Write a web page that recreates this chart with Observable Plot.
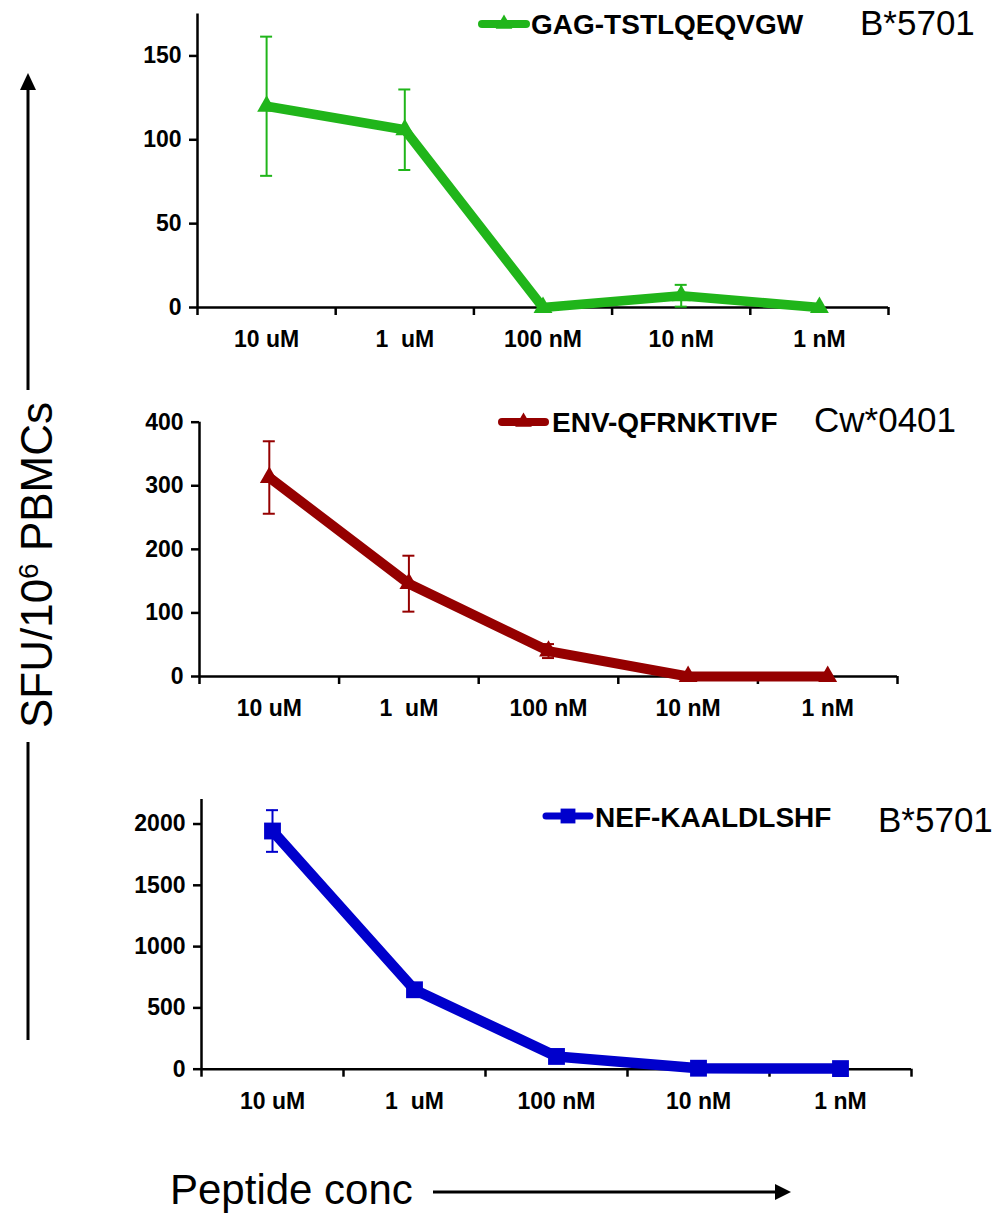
<!DOCTYPE html>
<html><head><meta charset="utf-8">
<script src="https://cdn.jsdelivr.net/npm/d3@7"></script>
<script src="https://cdn.jsdelivr.net/npm/@observablehq/plot@0.6"></script>
<style>
body{margin:0;background:#fff;}
#root{position:relative;width:1000px;height:1214px;font-family:"Liberation Sans",Arial,sans-serif;overflow:hidden;}
#root > svg{position:absolute;left:0;}
svg text{white-space:pre;}
</style></head><body><div id="root"></div>
<script>
// ---- data ----
const concentrations = ["10 uM", "1  uM", "100 nM", "10 nM", "1 nM"];

const gagLabel = "GAG-TSTLQEQVGW";
const gagHLA = "B*5701";
const gagMean = [120, 106, 0, 7, 0];
const gagErr = [41.5, 24, 0, 6.5, 0];
const gagTicks = [0, 50, 100, 150];

const envLabel = "ENV-QFRNKTIVF";
const envHLA = "Cw*0401";
const envMean = [313, 146, 40, 0, 0];
const envErr = [57, 44, 11, 0, 0];
const envTicks = [0, 100, 200, 300, 400];

const nefLabel = "NEF-KAALDLSHF";
const nefHLA = "B*5701";
const nefMean = [1943, 648, 104, 8, 5];
const nefErr = [170, 0, 0, 0, 0];
const nefTicks = [0, 500, 1000, 1500, 2000];

const yAxisTitle = ["SFU/10", "6", " PBMCs"];
const xAxisTitle = "Peptide conc";

// ---- panels ----
const FONT = '"Liberation Sans", Arial, sans-serif';
const root = document.getElementById("root");

function makePanel(o) {
  const data = concentrations.map((c, i) => ({
    c, x: i + 0.5, y: o.mean[i], e: o.err[i],
    lo: o.mean[i] - o.err[i], hi: o.mean[i] + o.err[i]
  }));
  const withErr = data.filter(d => d.e > 0);
  const chart = Plot.plot({
    width: 1000, height: o.height,
    marginTop: o.mt, marginBottom: o.mb, marginLeft: o.ml, marginRight: o.mr,
    x: {type: "linear", domain: [0, concentrations.length]},
    y: {domain: [0, o.yMax]},
    style: {fontFamily: FONT, fontSize: "23px", fontWeight: "bold", color: "#000", background: "transparent", overflow: "visible"},
    marks: [
      Plot.axisY({ticks: o.ticks, tickSize: 8, tickPadding: 8, strokeWidth: 2.5, label: null, tickFormat: d3.format("d"), fontSize: 23, fontWeight: "bold"}),
      Plot.axisX({ticks: d3.range(0, concentrations.length + 1), tickSize: 8, tickFormat: () => "", strokeWidth: 2.5, label: null}),
      Plot.axisX({ticks: data.map(d => d.x), tickSize: 0, tickPadding: 23, tickFormat: d => concentrations[Math.floor(d)], label: null, fontSize: 23, fontWeight: "bold"}),
      Plot.ruleX([0], {stroke: "#000", strokeWidth: 2.5}),
      Plot.ruleY([0], {stroke: "#000", strokeWidth: 2.5}),
      Plot.ruleX(withErr, {x: "x", y1: "lo", y2: "hi", stroke: o.color, strokeWidth: 2}),
      Plot.ruleY(withErr, {y: "hi", x1: "x", x2: "x", insetLeft: -6, insetRight: -6, stroke: o.color, strokeWidth: 2}),
      Plot.ruleY(withErr, {y: "lo", x1: "x", x2: "x", insetLeft: -6, insetRight: -6, stroke: o.color, strokeWidth: 2}),
      Plot.line(data, {x: "x", y: "y", stroke: o.color, strokeWidth: o.lw, strokeLinejoin: "round", strokeLinecap: "round"}),
      Plot.dot(data, {x: "x", y: "y", symbol: o.symbol, fill: o.color, stroke: "none", r: o.r})
    ]
  });
  chart.style.top = o.top + "px";
  root.appendChild(chart);
}

const GREEN = "#20b51a", RED = "#950000", BLUE = "#0000cc";

makePanel({mean: gagMean, err: gagErr, ticks: gagTicks, yMax: 175, color: GREEN, symbol: "triangle", r: 7, lw: 9.5,
  top: 0, height: 370, mt: 13.5, mb: 63, ml: 197, mr: 112});
makePanel({mean: envMean, err: envErr, ticks: envTicks, yMax: 400, color: RED, symbol: "triangle", r: 7, lw: 10,
  top: 390, height: 350, mt: 31.7, mb: 64, ml: 199, mr: 103});
makePanel({mean: nefMean, err: nefErr, ticks: nefTicks, yMax: 2200, color: BLUE, symbol: "square", r: 9.5, lw: 10.5,
  top: 780, height: 350, mt: 19, mb: 61.3, ml: 201, mr: 89});

// ---- overlay: legends, HLA labels, axis titles ----
const svg = d3.select(root).append("svg")
  .attr("width", 1000).attr("height", 1214)
  .style("top", "0px").style("pointer-events", "none")
  .style("font-family", FONT);

const legends = [
  {label: gagLabel, hla: gagHLA, color: GREEN, sym: d3.symbolTriangle, size: 120, lx1: 482, lx2: 526, ly: 24, tx: 531, tb: 34, hx: 860, hb: 35, lw: 8},
  {label: envLabel, hla: envHLA, color: RED, sym: d3.symbolTriangle, size: 120, lx1: 502, lx2: 545, ly: 422, tx: 552, tb: 432, hx: 814, hb: 432, lw: 8},
  {label: nefLabel, hla: nefHLA, color: BLUE, sym: d3.symbolSquare, size: 220, lx1: 546, lx2: 590, ly: 816, tx: 595, tb: 827, hx: 878, hb: 832, lw: 7}
];
for (const L of legends) {
  svg.append("line").attr("x1", L.lx1).attr("x2", L.lx2).attr("y1", L.ly).attr("y2", L.ly)
    .attr("stroke", L.color).attr("stroke-width", L.lw).attr("stroke-linecap", "round");
  svg.append("path").attr("d", d3.symbol(L.sym, L.size)())
    .attr("transform", `translate(${(L.lx1 + L.lx2) / 2},${L.ly})`).attr("fill", L.color);
  svg.append("text").attr("x", L.tx).attr("y", L.tb).attr("font-size", 28).attr("font-weight", "bold")
    .attr("fill", "#000").text(L.label);
  svg.append("text").attr("x", L.hx).attr("y", L.hb).attr("font-size", 35)
    .attr("fill", "#000").text(L.hla);
}

// y title with arrow
const yt = svg.append("text").attr("transform", "translate(52,565) rotate(-90)")
  .attr("text-anchor", "middle").attr("font-size", 44).attr("fill", "#000");
yt.append("tspan").text(yAxisTitle[0]);
yt.append("tspan").attr("font-size", 28).attr("dy", -14).text(yAxisTitle[1]);
yt.append("tspan").attr("dy", 14).text(yAxisTitle[2]);
svg.append("line").attr("x1", 28).attr("x2", 28).attr("y1", 88).attr("y2", 390).attr("stroke", "#000").attr("stroke-width", 3);
svg.append("line").attr("x1", 28).attr("x2", 28).attr("y1", 742).attr("y2", 1040).attr("stroke", "#000").attr("stroke-width", 3);
svg.append("path").attr("d", "M28,73L20,90L36,90Z").attr("fill", "#000");

// x title with arrow
svg.append("text").attr("x", 170).attr("y", 1204).attr("font-size", 42).attr("fill", "#000").text(xAxisTitle);
svg.append("line").attr("x1", 433).attr("x2", 777).attr("y1", 1192).attr("y2", 1192).attr("stroke", "#000").attr("stroke-width", 3);
svg.append("path").attr("d", "M791,1192L775,1184L775,1200Z").attr("fill", "#000");
</script>
</body></html>
